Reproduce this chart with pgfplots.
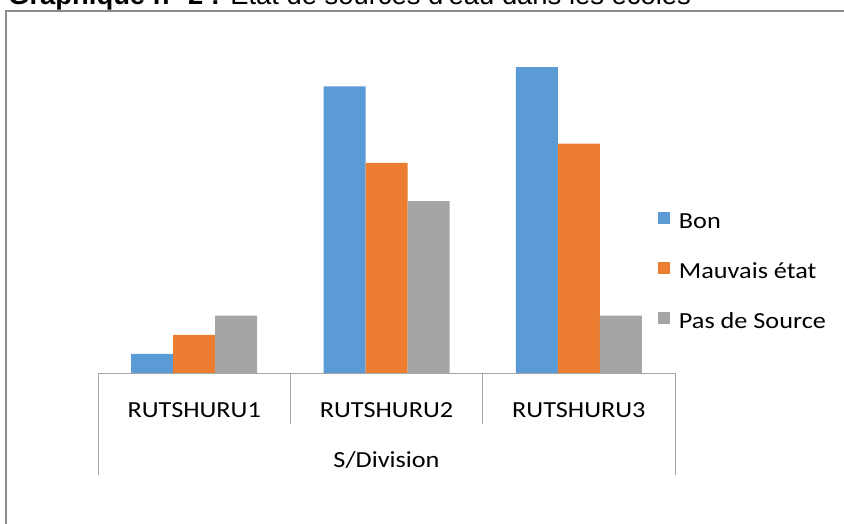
\documentclass[border=0pt]{standalone}
\usepackage{fontspec}
\setmainfont{Carlito}
\newfontfamily\chartfont[FakeStretch=1.14]{Carlito}
\newfontfamily\titlefont{Liberation Sans}
\usepackage{pgfplots}
\pgfplotsset{compat=1.18}
\definecolor{cblue}{HTML}{5B9BD5}
\definecolor{corange}{HTML}{ED7D31}
\definecolor{cgray}{HTML}{A5A5A5}
\definecolor{divgray}{HTML}{A6A6A6}
\definecolor{framegray}{HTML}{8C8C8C}
\begin{document}
\begin{tikzpicture}[x=1pt,y=1pt]
\useasboundingbox (0,0) rectangle (844,523);
\clip (0,0) rectangle (844,523);
\draw[framegray, line width=1.1pt] (6,512) rectangle (900,-50);
\node[anchor=base west, font=\titlefont\fontsize{27.4}{32}\selectfont, inner sep=0pt] at (8,518) {\textbf{Graphique n° 2 :} Etat de sources d'eau dans les écoles};
\begin{axis}[
  at={(98pt,150pt)}, anchor=south west,
  scale only axis, width=577pt, height=344pt,
  xmin=-0.5, xmax=2.5, ymin=0, ymax=18,
  ybar=0pt, bar width=42pt,
  axis line style={draw=none},
  xtick={0,1,2}, xticklabels={RUTSHURU1,RUTSHURU2,RUTSHURU3},
  ytick=\empty, major tick length=0pt,
  x tick label style={font=\chartfont\fontsize{23}{27}\selectfont, anchor=base, yshift=-44pt, inner sep=0pt},
  xlabel={S/Division},
  xlabel style={at={(axis description cs:0.5,0)}, anchor=base, yshift=-94pt, font=\chartfont\fontsize{23}{27}\selectfont, inner sep=0pt},
  clip=false,
  legend image code/.code={\fill[#1] (0pt,-1pt) rectangle (12pt,11pt);},
  legend style={at={(axis description cs:0.9705,0.292)}, anchor=west, draw=none, fill=none,
    inner sep=0pt, outer sep=0pt, row sep=29pt, column sep=9pt,
    font=\chartfont\fontsize{23}{27}\selectfont,
    nodes={inner sep=0pt, text height=15pt, text depth=5pt}},
  legend cell align=left,
]
\addplot[fill=cblue, draw=none] coordinates {(0,1) (1,15) (2,16)};
\addplot[fill=corange, draw=none] coordinates {(0,2) (1,11) (2,12)};
\addplot[fill=cgray, draw=none] coordinates {(0,3) (1,9) (2,3)};
\legend{Bon, Mauvais état, Pas de Source}
\draw[divgray, line width=1pt] (axis cs:-0.5,0) -- (axis cs:2.5,0);
\draw[divgray, line width=1pt] (axis cs:-0.5,0) -- ([yshift=-102pt]axis cs:-0.5,0);
\draw[divgray, line width=1pt] (axis cs:2.5,0) -- ([yshift=-102pt]axis cs:2.5,0);
\draw[divgray, line width=1pt] (axis cs:0.5,0) -- ([yshift=-51pt]axis cs:0.5,0);
\draw[divgray, line width=1pt] (axis cs:1.5,0) -- ([yshift=-51pt]axis cs:1.5,0);
\end{axis}
\end{tikzpicture}
\end{document}
